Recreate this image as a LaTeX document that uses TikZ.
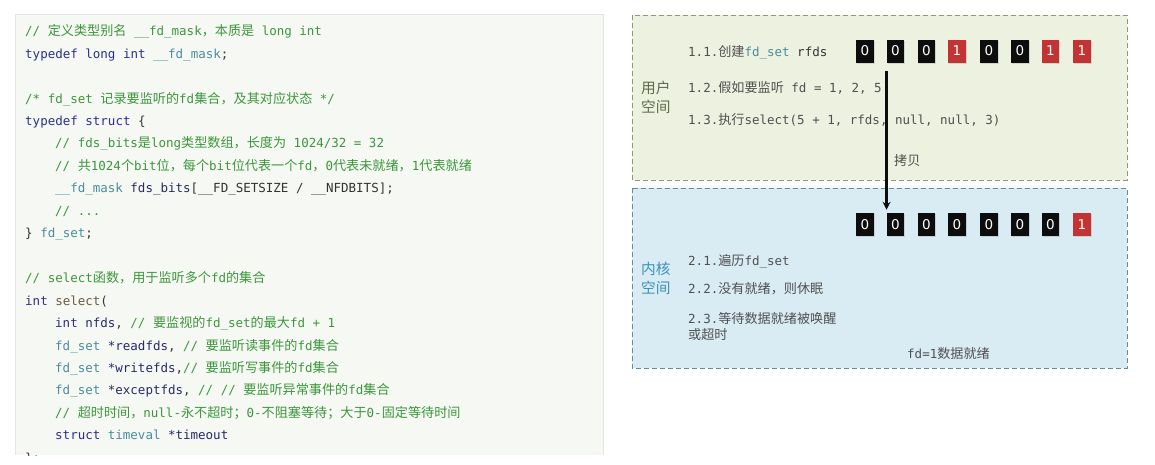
\documentclass[tikz,border=0pt]{standalone}
\usepackage{fontspec}
\usetikzlibrary{arrows.meta,shadows}
\setmonofont{DejaVu Sans Mono}
\newfontfamily\cjkf[Scale=1.05]{Noto Sans CJK SC}
\newfontfamily\bitf{DejaVu Sans}
% automatic switch to the CJK font for CJK characters
\XeTeXinterchartokenstate=1
\newXeTeXintercharclass\CJKcls
\count255="4E00
\loop\XeTeXcharclass\count255=\CJKcls\ifnum\count255<"9FFF\advance\count255 by 1\repeat
\count255="3000
\loop\XeTeXcharclass\count255=\CJKcls\ifnum\count255<"303F\advance\count255 by 1\repeat
\count255="FF00
\loop\XeTeXcharclass\count255=\CJKcls\ifnum\count255<"FFEF\advance\count255 by 1\repeat
\XeTeXinterchartoks 0 \CJKcls={\cjkf}
\XeTeXinterchartoks 4095 \CJKcls={\cjkf}
\XeTeXinterchartoks \CJKcls 0={\ttfamily}
\XeTeXinterchartoks \CJKcls 4095={\ttfamily}

\definecolor{cmt}{HTML}{3C963C}
\definecolor{kwd}{HTML}{2B2F8F}
\definecolor{typ}{HTML}{4A8C9C}
\definecolor{fnc}{HTML}{6E5C3C}
\definecolor{idn}{HTML}{262A66}
\definecolor{plain}{HTML}{333333}
\definecolor{panel}{HTML}{F6F8F3}
\definecolor{panelline}{HTML}{E3E6E1}
\definecolor{userfill}{HTML}{EDF1E0}
\definecolor{userline}{HTML}{8C9A7A}
\definecolor{kernfill}{HTML}{D9ECF4}
\definecolor{kernline}{HTML}{5F8EA4}
\definecolor{userlbl}{HTML}{5C6B4A}
\definecolor{kernlbl}{HTML}{3A90B8}
\definecolor{rgray}{HTML}{505050}
\definecolor{bitblack}{HTML}{0D0D0D}
\definecolor{bitred}{HTML}{C23434}

\newcommand\ccm[1]{\textcolor{cmt}{#1}}
\newcommand\ckw[1]{\textcolor{kwd}{#1}}
\newcommand\cty[1]{\textcolor{typ}{#1}}
\newcommand\cfn[1]{\textcolor{fnc}{#1}}
\newcommand\cid[1]{\textcolor{idn}{#1}}

\begin{document}
\begin{tikzpicture}[x=1pt,y=-1pt,
  code/.style={anchor=base west, inner sep=0pt, font=\fontsize{12.5}{15}\selectfont\ttfamily, text=plain},
  rtxt/.style={anchor=base west, inner sep=0pt, font=\fontsize{12.5}{15}\selectfont\ttfamily, text=rgray},
  spacelbl/.style={anchor=base west, inner sep=0pt, font=\cjkf\fontsize{14}{18}\selectfont, align=left},
  bit/.style={minimum width=17.5pt, minimum height=23pt, inner sep=0pt, text=white,
    font=\bitf\fontsize{13.5}{13.5}\selectfont,
    drop shadow={opacity=0.25, shadow xshift=0.8pt, shadow yshift=-1pt}},
  arr/.style={line width=2.2pt, draw=bitblack, -{Stealth[length=8pt,width=8pt]}}
]
\useasboundingbox (0,0) rectangle (1155,464);

% ---------- code panel ----------
\fill[panelline] (15,14) rectangle (604,455);
\fill[panel] (16,15) rectangle (603,455);
\begin{scope}
\clip (16,15) rectangle (603,455);
\node[code] (l1) at (25,35.7) {\ccm{// 定义类型别名 \_\_fd\_mask，本质是 long int}};
\node[code] (l2) at (25,58.15) {\ckw{typedef long int} \cty{\_\_fd\_mask};};
\node[code] (l4) at (25,103.05) {\ccm{/* fd\_set 记录要监听的fd集合，及其对应状态 */}};
\node[code] (l5) at (25,125.5) {\ckw{typedef struct} \{};
\node[code] (l6) at (55,147.95) {\ccm{// fds\_bits是long类型数组，长度为 1024/32 = 32}};
\node[code] (l7) at (55,170.4) {\ccm{// 共1024个bit位，每个bit位代表一个fd，0代表未就绪，1代表就绪}};
\node[code] (l8) at (55,192.85) {\cty{\_\_fd\_mask} \cid{fds\_bits}[\_\_FD\_SETSIZE / \_\_NFDBITS];};
\node[code] (l9) at (55,215.3) {\ccm{// ...}};
\node[code] (l10) at (25,237.75) {\} \cty{fd\_set};};
\node[code] (l12) at (25,282.65) {\ccm{// select函数，用于监听多个fd的集合}};
\node[code] (l13) at (25,305.1) {\ckw{int} \cfn{select}(};
\node[code] (l14) at (55,327.55) {\ckw{int} \cid{nfds}, \ccm{// 要监视的fd\_set的最大fd + 1}};
\node[code] (l15) at (55,350.0) {\cty{fd\_set} \cid{*readfds}, \ccm{// 要监听读事件的fd集合}};
\node[code] (l16) at (55,372.45) {\cty{fd\_set} \cid{*writefds},\ccm{// 要监听写事件的fd集合}};
\node[code] (l17) at (55,394.9) {\cty{fd\_set} \cid{*exceptfds}, \ccm{// // 要监听异常事件的fd集合}};
\node[code] (l18) at (55,417.35) {\ccm{// 超时时间，null-永不超时；0-不阻塞等待；大于0-固定等待时间}};
\node[code] (l19) at (55,439.8) {\ckw{struct} \cty{timeval} \cid{*timeout}};
\node[code] (l20) at (25,462.25) {\};};
\end{scope}

% ---------- user space ----------
\draw[userline, fill=userfill, line width=1pt, dash pattern=on 5pt off 3pt] (632,15) rectangle (1127,180);
\node[spacelbl, text=userlbl] (ulbl1) at (641,93.5) {用户};
\node[spacelbl, text=userlbl] (ulbl2) at (641,112.3) {空间};
\node[rtxt] (s11) at (688,56.5) {1.1.创建\cty{fd\_set} \textcolor{plain}{rfds}};
\node[rtxt] (s12) at (688,92) {1.2.假如要监听 fd = 1, 2, 5};
\node[rtxt] (s13) at (688,124.5) {1.3.执行select(5 + 1, rfds, null, null, 3)};
\node[rtxt] (copy) at (894,165) {拷贝};

% ---------- kernel space ----------
\draw[kernline, fill=kernfill, line width=1pt, dash pattern=on 5pt off 3pt] (632,188) rectangle (1127,368);
\node[spacelbl, text=kernlbl] (klbl1) at (641,274.3) {内核};
\node[spacelbl, text=kernlbl] (klbl2) at (641,293.3) {空间};
\node[rtxt] (s21) at (688,265.5) {2.1.遍历fd\_set};
\node[rtxt] (s22) at (688,293.5) {2.2.没有就绪，则休眠};
\node[rtxt] (s23) at (688,323.5) {2.3.等待数据就绪被唤醒};
\node[rtxt] (s23b) at (688,339) {或超时};
\node[rtxt] (ready) at (907,358.5) {fd=1数据就绪};

% ---------- bits ----------
\foreach \x/\v/\c [count=\i] in {865/0/bitblack,895.5/0/bitblack,926.5/0/bitblack,957/1/bitred,989/0/bitblack,1020/0/bitblack,1050.5/1/bitred,1082/1/bitred}
  \node[bit, fill=\c] (t\i) at (\x,51) {\v};
\foreach \x/\v/\c [count=\i] in {865/0/bitblack,895.5/0/bitblack,926.5/0/bitblack,957/0/bitblack,989/0/bitblack,1020/0/bitblack,1050.5/0/bitblack,1082/1/bitred}
  \node[bit, fill=\c] (b\i) at (\x,224.5) {\v};

% ---------- copy arrow ----------
\draw[arr] ([yshift=-8.5pt]t2.south west) -- ([yshift=3pt]b2.north west);
\end{tikzpicture}
\end{document}
